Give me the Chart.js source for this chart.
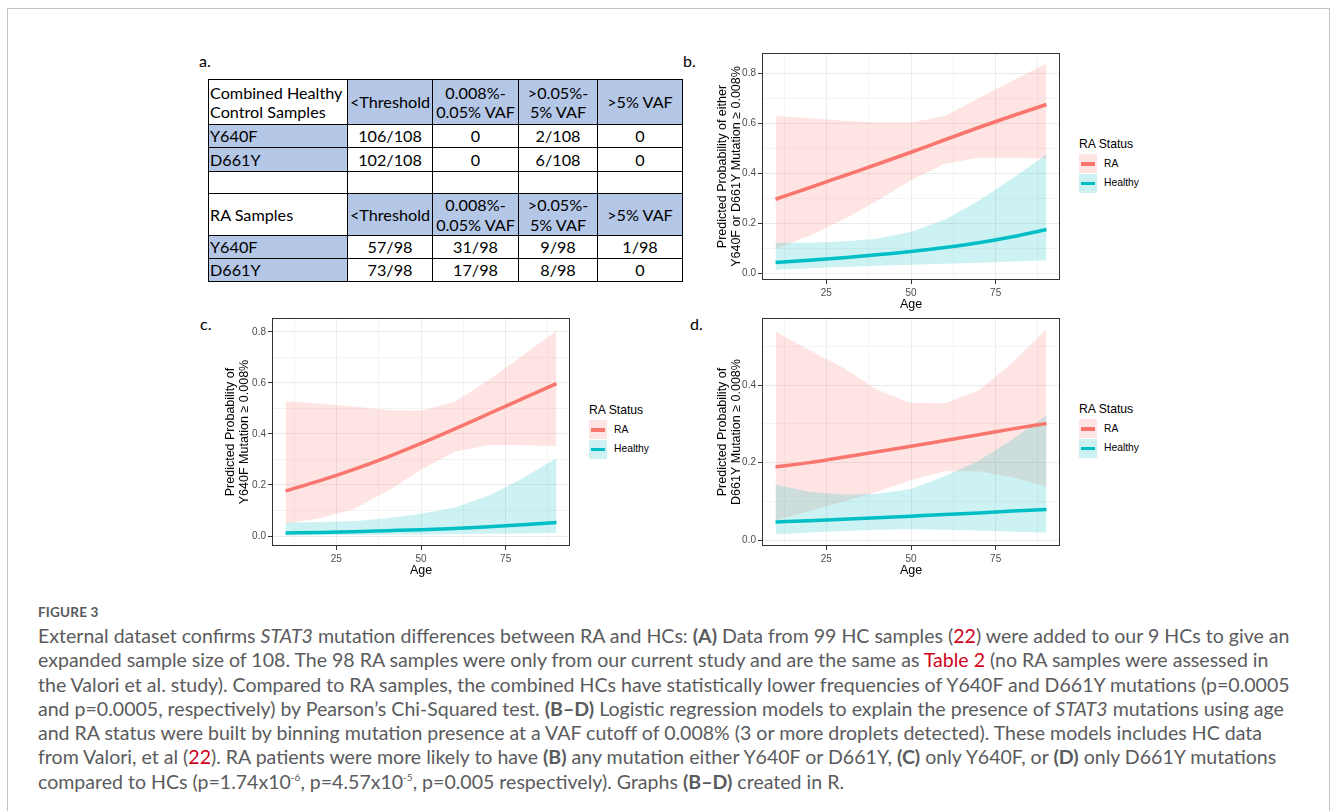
<!DOCTYPE html>
<html><head><meta charset="utf-8">
<script src="https://cdn.jsdelivr.net/npm/chart.js@4.4.1/dist/chart.umd.min.js"></script>
<style>
body{margin:0;background:#fff;width:1331px;height:811px;overflow:hidden;position:relative;font-family:'Liberation Sans',Arial,sans-serif;}
.frame{position:absolute;left:7px;top:8px;width:1323px;height:900px;border:1px solid #c4c4c4;box-sizing:border-box;}
.plabel{position:absolute;font-family:Lato,'Noto Sans',sans-serif;font-size:16px;color:#000;line-height:16px;}
canvas{position:absolute;}
#tbl{position:absolute;left:208px;top:79px;border-collapse:collapse;font-family:Lato,'Noto Sans',sans-serif;font-size:16.2px;color:#000;table-layout:fixed;}
#tbl td{border:1px solid #000;padding:0 1px;text-align:center;line-height:19.5px;white-space:nowrap;overflow:hidden;}
#tbl td.first{text-align:left;}
#tbl td.blue{background:#B4C7E7;}
.legend{position:absolute;font-family:'Liberation Sans',Arial,sans-serif;}
.legend .lt{position:absolute;left:0;top:0;font-size:12.2px;line-height:14px;white-space:nowrap;color:#000;}
.legend .key{position:absolute;left:0;width:18px;height:19px;}
.legend .key i{position:absolute;left:2px;right:2px;top:8px;height:3.5px;}
.legend .kl{position:absolute;left:25px;font-size:10.3px;line-height:12px;white-space:nowrap;color:#000;}
#figlab{position:absolute;left:38px;top:604px;font-family:Lato,'Noto Sans',sans-serif;font-weight:700;font-size:13.5px;color:#58595b;letter-spacing:0.2px;}
#cap{position:absolute;left:38px;top:624px;font-family:Lato,'Noto Sans',sans-serif;font-size:16px;line-height:24.3px;color:#5a5b5d;white-space:nowrap;}
#cap .r{color:#d0021b;}
#cap b{font-weight:700;}
</style></head>
<body>
<div class="frame"></div>
<div class="plabel" style="left:199px;top:53px;">a.</div>
<div class="plabel" style="left:683px;top:53px;">b.</div>
<div class="plabel" style="left:200px;top:316px;">c.</div>
<div class="plabel" style="left:690px;top:316px;">d.</div>
<table id="tbl"></table>

<canvas id="cb" width="362" height="270" style="left:700px;top:45px;"></canvas>
<canvas id="cc" width="362" height="271" style="left:210px;top:310px;"></canvas>
<canvas id="cd" width="362" height="271" style="left:700px;top:310px;"></canvas>

<div id="lb" class="legend" style="left:1079px;top:137px;"></div>
<div id="lc" class="legend" style="left:589px;top:403px;"></div>
<div id="ld" class="legend" style="left:1079px;top:402px;"></div>

<div id="figlab">FIGURE 3</div>
<div id="cap"><span id="l1">External dataset confirms <i>STAT3</i> mutation differences between RA and HCs: <b>(A)</b> Data from 99 HC samples (<span class="r">22</span>) were added to our 9 HCs to give an</span><br>expanded sample size of 108. The 98 RA samples were only from our current study and are the same as <span class="r">Table 2</span> (no RA samples were assessed in<br>the Valori et al. study). Compared to RA samples, the combined HCs have statistically lower frequencies of Y640F and D661Y mutations (p=0.0005<br>and p=0.0005, respectively) by Pearson’s Chi-Squared test. <b>(B–D)</b> Logistic regression models to explain the presence of <i>STAT3</i> mutations using age<br>and RA status were built by binning mutation presence at a VAF cutoff of 0.008% (3 or more droplets detected). These models includes HC data<br>from Valori, et al (<span class="r">22</span>). RA patients were more likely to have <b>(B)</b> any mutation either Y640F or D661Y, <b>(C)</b> only Y640F, or <b>(D)</b> only D661Y mutations<br>compared to HCs (p=1.74x10<sup style="font-size:10px;line-height:0">-6</sup>, p=4.57x10<sup style="font-size:10px;line-height:0">-5</sup>, p=0.005 respectively). Graphs <b>(B–D)</b> created in R.</div>

<script>
// ---------- Table (a) data ----------
const vafBins = ['<Threshold', '0.008%-\n0.05% VAF', '>0.05%-\n5% VAF', '>5% VAF'];
const mutations = ['Y640F', 'D661Y'];
const hcCounts = [['106/108', '0', '2/108', '0'], ['102/108', '0', '6/108', '0']];
const raCounts = [['57/98', '31/98', '9/98', '1/98'], ['73/98', '17/98', '8/98', '0']];

// ---------- Regression curves (b, c, d) ----------
const ages = [10, 20, 30, 40, 50, 60, 70, 80, 90];

const bRaFit  = [0.296, 0.342, 0.389, 0.436, 0.484, 0.534, 0.583, 0.630, 0.675];
const bRaLow  = [0.096, 0.150, 0.215, 0.290, 0.372, 0.438, 0.462, 0.462, 0.458];
const bRaHigh = [0.629, 0.620, 0.610, 0.603, 0.603, 0.629, 0.700, 0.770, 0.840];
const bHcFit  = [0.043, 0.052, 0.062, 0.074, 0.087, 0.103, 0.122, 0.146, 0.175];
const bHcLow  = [0.014, 0.020, 0.025, 0.030, 0.034, 0.038, 0.042, 0.047, 0.052];
const bHcHigh = [0.122, 0.122, 0.127, 0.138, 0.166, 0.214, 0.290, 0.380, 0.475];

const cRaFit  = [0.177, 0.216, 0.260, 0.309, 0.363, 0.420, 0.479, 0.538, 0.597];
const cRaLow  = [0.048, 0.070, 0.105, 0.175, 0.260, 0.330, 0.357, 0.357, 0.352];
const cRaHigh = [0.528, 0.518, 0.507, 0.494, 0.491, 0.526, 0.610, 0.707, 0.804];
const cHcFit  = [0.012, 0.014, 0.017, 0.021, 0.025, 0.030, 0.036, 0.044, 0.053];
const cHcLow  = [0.002, 0.003, 0.004, 0.005, 0.006, 0.008, 0.009, 0.010, 0.012];
const cHcHigh = [0.052, 0.055, 0.058, 0.070, 0.087, 0.112, 0.158, 0.225, 0.306];

const dRaFit  = [0.189, 0.200, 0.214, 0.228, 0.242, 0.257, 0.272, 0.287, 0.301];
const dRaLow  = [0.051, 0.075, 0.100, 0.125, 0.155, 0.178, 0.178, 0.162, 0.138];
const dRaHigh = [0.538, 0.490, 0.445, 0.388, 0.354, 0.353, 0.386, 0.458, 0.544];
const dHcFit  = [0.047, 0.050, 0.054, 0.058, 0.062, 0.066, 0.070, 0.075, 0.079];
const dHcLow  = [0.015, 0.020, 0.024, 0.027, 0.028, 0.027, 0.025, 0.022, 0.020];
const dHcHigh = [0.143, 0.125, 0.118, 0.120, 0.132, 0.165, 0.205, 0.260, 0.322];

const xTicks = [12.5, 25, 37.5, 50, 62.5, 75, 87.5];
const yTicksB = [0, 0.1, 0.2, 0.3, 0.4, 0.5, 0.6, 0.7, 0.8];
const yTicksC = [0, 0.1, 0.2, 0.3, 0.4, 0.5, 0.6, 0.7, 0.8];
const yTicksD = [0, 0.1, 0.2, 0.3, 0.4, 0.5];
const seriesNames = ['RA', 'Healthy'];
const legendTitle = 'RA Status';

// ---------- build table ----------
(function () {
  const t = document.getElementById('tbl');
  const widths = [139, 85, 86, 79, 85];
  const cg = document.createElement('colgroup');
  widths.forEach(w => { const c = document.createElement('col'); c.style.width = w + 'px'; cg.appendChild(c); });
  t.appendChild(cg);
  const esc = s => s.replace(/&/g, '&amp;').replace(/</g, '&lt;').replace(/>/g, '&gt;').replace(/\n/g, '<br>');
  function row(h, cells) {
    const tr = document.createElement('tr'); tr.style.height = h + 'px';
    cells.forEach(c => { const td = document.createElement('td'); td.innerHTML = c.html; if (c.cls) td.className = c.cls; tr.appendChild(td); });
    t.appendChild(tr);
  }
  row(45, [{ html: 'Combined Healthy<br>Control Samples', cls: 'first' }].concat(vafBins.map(v => ({ html: esc(v), cls: 'blue' }))));
  mutations.forEach((m, i) => row(i === 0 ? 23 : 24, [{ html: m, cls: 'first blue' }].concat(hcCounts[i].map(v => ({ html: v })))));
  row(22, [0, 1, 2, 3, 4].map(() => ({ html: '&nbsp;' })));
  row(42, [{ html: 'RA Samples', cls: 'first' }].concat(vafBins.map(v => ({ html: esc(v), cls: 'blue' }))));
  mutations.forEach((m, i) => row(23, [{ html: m, cls: 'first blue' }].concat(raCounts[i].map(v => ({ html: v })))));
})();

// ---------- legends ----------
const RA_COL = '#F8766D', HC_COL = '#00BFC4';
const RA_FILL = 'rgba(248,118,109,0.2)', HC_FILL = 'rgba(0,191,196,0.2)';
['lb', 'lc', 'ld'].forEach(id => {
  const el = document.getElementById(id);
  let h = '<div class="lt">' + legendTitle + '</div>';
  const cols = [[RA_COL, RA_FILL], [HC_COL, HC_FILL]];
  seriesNames.forEach((n, i) => {
    const top = 17 + i * 19.5;
    h += '<div class="key" style="top:' + top + 'px;background:' + cols[i][1] + '"><i style="background:' + cols[i][0] + '"></i></div>';
    h += '<div class="kl" style="top:' + (top + 3.5) + 'px">' + n + '</div>';
  });
  el.innerHTML = h;
});

// ---------- charts ----------
const FAM = "'Liberation Sans', Arial, sans-serif";
const borderPlugin = {
  id: 'pborder',
  afterDraw(ch) {
    const a = ch.chartArea, c = ch.ctx;
    c.save(); c.strokeStyle = '#333333'; c.lineWidth = 1;
    c.strokeRect(Math.round(a.left) + 0.5, Math.round(a.top) + 0.5, Math.round(a.right - a.left) - 1, Math.round(a.bottom - a.top) - 1);
    c.restore();
  }
};
const isMajX = v => Math.abs(v % 25) < 1e-6;
const isMajY = v => Math.round(v * 10) % 2 === 0;

function panel(id, s, yMin, yMax, yTicks, yTitle, yTitlePad) {
  const pts = arr => ages.map((a, i) => ({ x: a, y: arr[i] }));
  const band = (arr, fill, bg) => ({ data: pts(arr), borderColor: 'rgba(0,0,0,0)', borderWidth: 1, pointRadius: 0, fill: fill, backgroundColor: bg || 'rgba(0,0,0,0)', tension: 0 });
  const ds = [
    Object.assign(band(s.raHigh, '+1', RA_FILL), { order: 3 }),
    Object.assign(band(s.raLow, false), { order: 3 }),
    Object.assign(band(s.hcHigh, '+1', HC_FILL), { order: 2 }),
    Object.assign(band(s.hcLow, false), { order: 2 }),
    { data: pts(s.raFit), borderColor: RA_COL, borderWidth: 3.5, pointRadius: 0, fill: false, cubicInterpolationMode: 'monotone', order: 1 },
    { data: pts(s.hcFit), borderColor: HC_COL, borderWidth: 3.5, pointRadius: 0, fill: false, cubicInterpolationMode: 'monotone', order: 0 }
  ];
  const gridCol = maj => c => (c.tick && maj(c.tick.value)) ? '#EBEBEB' : '#F4F4F4';
  const tickCol = maj => c => (c.tick && maj(c.tick.value)) ? '#333333' : 'rgba(0,0,0,0)';
  new Chart(document.getElementById(id), {
    type: 'line',
    data: { datasets: ds },
    options: {
      responsive: false, animation: false, devicePixelRatio: 1,
      layout: { padding: { top: 5, right: 2, left: 0, bottom: 0 } },
      plugins: { legend: { display: false }, tooltip: { enabled: false } },
      scales: {
        x: {
          type: 'linear', min: 6, max: 94,
          afterBuildTicks: sc => { sc.ticks = xTicks.map(v => ({ value: v })); },
          afterFit: sc => { sc.height = 35; },
          ticks: { autoSkip: false, maxRotation: 0, padding: 3, color: '#4D4D4D', font: { size: 10, family: FAM }, callback: v => isMajX(v) ? String(v) : '' },
          grid: { color: gridCol(isMajX), tickColor: tickCol(isMajX), tickLength: 4, lineWidth: 1 },
          border: { display: false },
          title: { display: true, text: 'Age', color: '#000', font: { size: 12.5, family: FAM, lineHeight: 1.1 }, padding: { top: 0, bottom: 4 } }
        },
        y: {
          type: 'linear', min: yMin, max: yMax,
          afterBuildTicks: sc => { sc.ticks = yTicks.map(v => ({ value: v })); },
          afterFit: sc => { sc.width = 62; },
          ticks: { autoSkip: false, padding: 2, color: '#4D4D4D', font: { size: 10, family: FAM }, callback: v => isMajY(v) ? v.toFixed(1) : '' },
          grid: { color: gridCol(isMajY), tickColor: tickCol(isMajY), tickLength: 4, lineWidth: 1 },
          border: { display: false },
          title: { display: true, text: yTitle, color: '#000', font: { size: 12.5, family: FAM, lineHeight: 1.1 }, padding: { top: yTitlePad, bottom: 0 } }
        }
      }
    },
    plugins: [borderPlugin]
  });
}

panel('cb', { raFit: bRaFit, raLow: bRaLow, raHigh: bRaHigh, hcFit: bHcFit, hcLow: bHcLow, hcHigh: bHcHigh },
  -0.027, 0.881, yTicksB, ['Predicted Probability of either', 'Y640F or D661Y Mutation \u2265 0.008%'], 16);
panel('cc', { raFit: cRaFit, raLow: cRaLow, raHigh: cRaHigh, hcFit: cHcFit, hcLow: cHcLow, hcHigh: cHcHigh },
  -0.039, 0.854, yTicksC, ['Predicted Probability of', 'Y640F Mutation \u2265 0.008%'], 14);
panel('cd', { raFit: dRaFit, raLow: dRaLow, raHigh: dRaHigh, hcFit: dHcFit, hcLow: dHcLow, hcHigh: dHcHigh },
  -0.015, 0.573, yTicksD, ['Predicted Probability of', 'D661Y Mutation \u2265 0.008%'], 16);

// ---------- caption width fit ----------
(function () {
  const cap = document.getElementById('cap');
  const w = document.getElementById('l1').getBoundingClientRect().width;
  const target = 1252;
  cap.style.fontSize = (16 * target / w).toFixed(2) + 'px';
})();
</script>
</body></html>
